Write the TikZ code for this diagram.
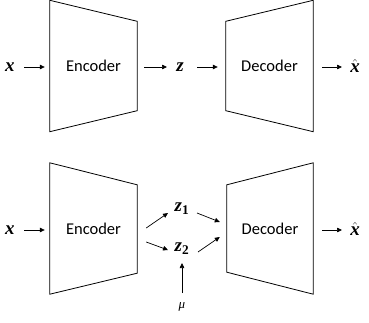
\documentclass[tikz,border=0pt]{standalone}
\usepackage{amsmath}
\usepackage{fontspec}
\setmainfont{Carlito}
\newfontfamily\mfont{Liberation Serif}
\newfontfamily\mbfit{Liberation Serif Bold Italic}
\newfontfamily\mbf{Liberation Serif Bold}
\usetikzlibrary{arrows.meta,calc}
\begin{document}
\begin{tikzpicture}[x=1pt,y=-1pt,
  box/.style={draw=none, minimum width=87pt, minimum height=131pt, inner sep=0pt,
    font=\fontsize{16.5}{19}\selectfont},
  trap/.style={draw=black, line width=0.8pt, line join=miter},
  sym/.style={inner sep=0pt, font=\mbfit\fontsize{19}{21}\selectfont},
  greek/.style={inner sep=0pt, font=\mfont\itshape\fontsize{13}{15}\selectfont},
  arr/.style={line width=0.7pt, -{Triangle[length=5pt,width=4.5pt]}}]
\useasboundingbox (0,0) rectangle (369,323);

% ---------- top row ----------
\node[sym] (x1) at (10,67) {x};
\node[box] (enc1) at (93.5,66) {Encoder};
\draw[trap] (enc1.north west) -- ($(enc1.north east)+(0,21)$) -- ($(enc1.south east)+(0,-21)$) -- (enc1.south west) -- cycle;
\node[sym] (z) at (180,67) {z};
\node[box] (dec1) at (269.5,66) {Decoder};
\draw[trap] (dec1.north east) -- (dec1.south east) -- ($(dec1.south west)+(0,-21)$) -- ($(dec1.north west)+(0,21)$) -- cycle;
\node[sym] (xh1) at (355,66) {$\hat{\text{x}}$};

\draw[arr] ($(x1)+(14,0)$) -- ($(enc1.west)+(-5,1)$);
\draw[arr] ($(enc1.east)+(7,1)$) -- ($(z)+(-13,0)$);
\draw[arr] ($(z)+(17,0)$) -- ($(dec1.west)+(-8,1)$);
\draw[arr] ($(dec1.east)+(9,1)$) -- ($(xh1)+(-13,1)$);

% ---------- bottom row ----------
\node[sym] (x2) at (10,230) {x};
\node[box] (enc2) at (93.5,228.5) {Encoder};
\draw[trap] (enc2.north west) -- ($(enc2.north east)+(0,22)$) -- ($(enc2.south east)+(0,-21)$) -- (enc2.south west) -- cycle;
\node[sym] (z1) at (182,209) {$\text{z}_{\text{\mbf 1}}$};
\node[sym] (z2) at (182,249) {$\text{z}_{\text{\mbf 2}}$};
\node[greek] (mu) at (182,307) {μ};
\node[box, minimum width=86pt] (dec2) at (270,228.5) {Decoder};
\draw[trap] (dec2.north east) -- (dec2.south east) -- ($(dec2.south west)+(0,-22)$) -- ($(dec2.north west)+(0,22)$) -- cycle;
\node[sym] (xh2) at (355,229) {$\hat{\text{x}}$};

\draw[arr] ($(x2)+(14,0)$) -- ($(enc2.west)+(-5,1.5)$);
\draw[arr] ($(enc2.east)+(9,-0.5)$) -- ($(z1)+(-14,4)$);
\draw[arr] ($(enc2.east)+(9,13.5)$) -- ($(z2)+(-14,1)$);
\draw[arr] ($(z1)+(15,4)$) -- ($(dec2.west)+(-7,-6.5)$);
\draw[arr] ($(z2)+(16,3)$) -- ($(dec2.west)+(-7,8.5)$);
\draw[arr] ($(mu)+(0,-14)$) -- ($(z2)+(0,14)$);
\draw[arr] ($(dec2.east)+(9,1.5)$) -- ($(xh2)+(-13,1)$);
\end{tikzpicture}
\end{document}
